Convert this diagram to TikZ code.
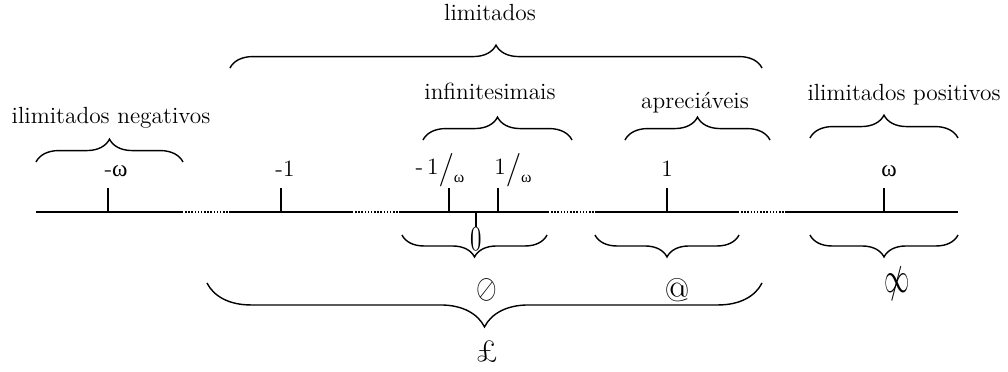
\documentclass[tikz,border=0pt]{standalone}
\usepackage{fontspec}
\newfontfamily\grk{Liberation Serif}
\usetikzlibrary{decorations.pathreplacing}

\newcommand{\wsym}{{\grk ω}}
\newcommand{\umw}{1\raisebox{-0.35ex}{\fontsize{19}{19}\selectfont/}\raisebox{-0.8ex}{\fontsize{9}{9}\selectfont\wsym}}

\tikzset{
  axis/.style={line width=1.1pt},
  gap/.style={densely dotted, line width=0.8pt},
  marktick/.style={line width=0.8pt},
  brc/.style={decorate, decoration={brace, amplitude=#1}, line width=0.8pt},
  lbl/.style={font=\fontsize{13.3}{15}\selectfont, inner sep=0pt},
}

\begin{document}
\begin{tikzpicture}[x=0.02cm,y=-0.02cm]
  \useasboundingbox (0,0) rectangle (1008,372);
  % a recta
  \foreach \a/\b in {36/182,230/352,400/548,595/738,785/958} {
    \coordinate (s\a) at (\a,212);
    \coordinate (e\a) at (\b,212);
    \draw[axis] (s\a) -- (e\a);
  }
  \foreach \a/\b in {182/230,352/400,548/595,738/785} {
    \coordinate (g\a) at (\a,212);
    \coordinate (h\a) at (\b,212);
    \draw[gap] (g\a) -- (h\a);
  }
  \foreach \x/\n in {108/mw,281/mo,449/mi,498/pi,667/po,884/pw} {
    \coordinate (t\n) at (\x,212);
    \coordinate (u\n) at (\x,188);
    \draw[marktick] (t\n) -- (u\n);
  }
  \node[lbl] (lmw) at (116,171) {-\wsym};
  \node[lbl] (lmo) at (285,169) {-1};
  \node[lbl] (lmi) at (440,170) {-\,\umw};
  \node[lbl] (lpi) at (513,170) {\umw};
  \node[lbl] (lpo) at (667,169) {1};
  \node[lbl] (lpw) at (889,171) {\wsym};
  % o zero
  \coordinate (z0) at (476,212);
  \node[lbl, anchor=north] (zero) at (476,227) {\scalebox{1}[1.5]{0}};
  \draw[marktick] (z0) -- (zero.north);
  % chavetas de cima
  \foreach \a/\b/\y/\n in {36/183/162/neg, 423/572/140/inf, 625/770/140/apr, 810/958/138/pos, 230/762/68/lim} {
    \coordinate (\n-l) at (\a,\y);
    \coordinate (\n-r) at (\b,\y);
    \draw[brc=13pt] (\n-l) -- (\n-r);
  }
  % chavetas de baixo
  \foreach \a/\b/\n in {402/547/zer, 595/739/ap, 810/958/un} {
    \coordinate (\n-l) at (\a,235);
    \coordinate (\n-r) at (\b,235);
    \draw[brc=12.5pt] (\n-r) -- (\n-l);
  }
  \coordinate (big-l) at (207,283);
  \coordinate (big-r) at (762,283);
  \draw[brc=25pt] (big-r) -- (big-l);
  % textos
  \node[lbl, anchor=base] (tlim) at (490,20) {limitados};
  \node[lbl, anchor=base] (tneg) at (111,123) {ilimitados negativos};
  \node[lbl, anchor=base] (tinf) at (490,99) {infinitesimais};
  \node[lbl, anchor=base] (tapr) at (695,108) {apreciáveis};
  \node[lbl, anchor=base] (tpos) at (904,100) {ilimitados positivos};
  \node[lbl] (sinf) at (487,290) {\scalebox{1.05}[1.35]{$\oslash$}};
  \node[lbl] (sapr) at (677,290) {\scalebox{1.4}{@}};
  \node[lbl] (sunl) at (897,288) {\ooalign{\scalebox{1}[1.7]{$\infty$}\cr\hidewidth\scalebox{1.1}[1.5]{/}\hidewidth\cr}};
  \node[lbl] (slim) at (487,352) {\scalebox{1.3}{\pounds}};
\end{tikzpicture}
\end{document}
